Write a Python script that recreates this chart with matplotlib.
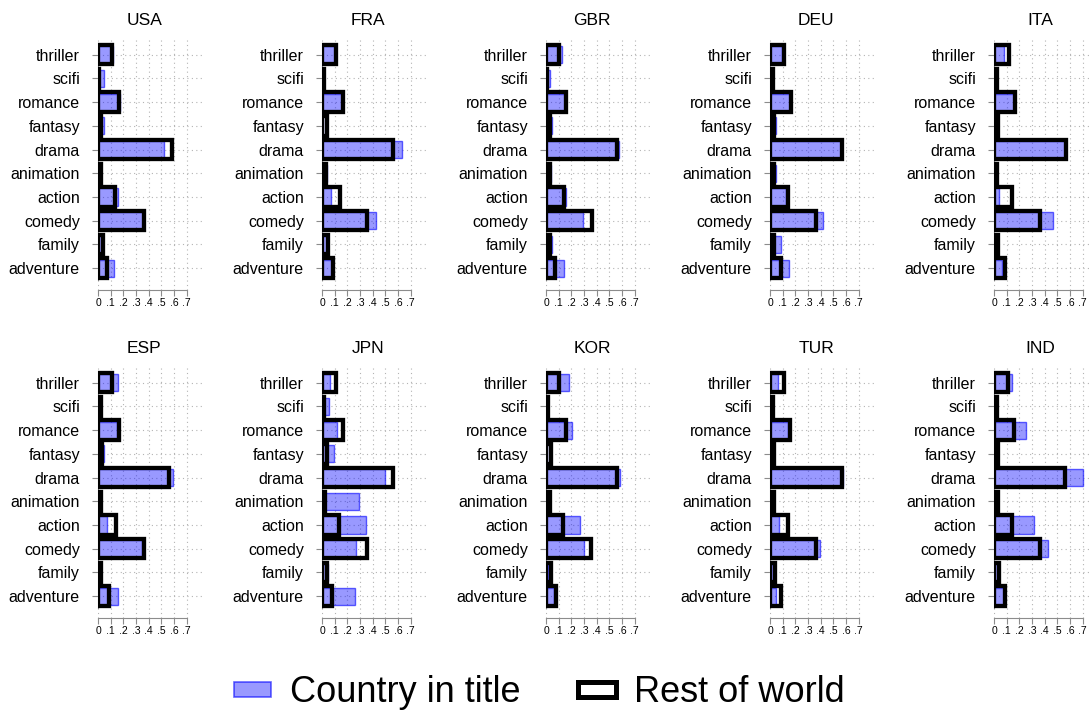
import numpy as np
import matplotlib
matplotlib.use("Agg")
import matplotlib.pyplot as plt
from matplotlib.patches import Patch

plt.rcParams['font.family'] = ['Liberation Sans', 'DejaVu Sans']

# genres, listed top to bottom as they appear on each panel
genres = ['thriller', 'scifi', 'romance', 'fantasy', 'drama',
          'animation', 'action', 'comedy', 'family', 'adventure']

countries = ['USA', 'FRA', 'GBR', 'DEU', 'ITA',
             'ESP', 'JPN', 'KOR', 'TUR', 'IND']

# genre shares of films with the country in the title
usa_in = [0.12, 0.05, 0.175, 0.045, 0.52, 0.01, 0.16, 0.355, 0.035, 0.127]
fra_in = [0.10, 0.005, 0.16, 0.01, 0.635, 0.04, 0.075, 0.425, 0.04, 0.085]
gbr_in = [0.13, 0.035, 0.155, 0.05, 0.58, 0.04, 0.16, 0.29, 0.05, 0.14]
deu_in = [0.095, 0.005, 0.155, 0.045, 0.56, 0.045, 0.13, 0.415, 0.09, 0.15]
ita_in = [0.08, 0.005, 0.155, 0.01, 0.56, 0.01, 0.04, 0.465, 0.025, 0.065]
esp_in = [0.16, 0.005, 0.15, 0.05, 0.595, 0.01, 0.07, 0.35, 0.02, 0.155]
jpn_in = [0.06, 0.058, 0.12, 0.092, 0.50, 0.29, 0.345, 0.27, 0.045, 0.263]
kor_in = [0.18, 0.005, 0.205, 0.01, 0.585, 0.01, 0.27, 0.30, 0.015, 0.06]
tur_in = [0.06, 0.005, 0.14, 0.005, 0.578, 0.005, 0.075, 0.395, 0.02, 0.045]
ind_in = [0.145, 0.005, 0.25, 0.005, 0.70, 0.005, 0.32, 0.425, 0.03, 0.085]

# genre shares for the rest of the world
usa_row = [0.108, 0.005, 0.166, 0.02, 0.585, 0.02, 0.137, 0.36, 0.04, 0.07]
fra_row = [0.11, 0.015, 0.165, 0.04, 0.56, 0.03, 0.145, 0.355, 0.045, 0.09]
gbr_row = [0.103, 0.01, 0.16, 0.035, 0.565, 0.03, 0.14, 0.36, 0.035, 0.075]
deu_row = [0.11, 0.02, 0.165, 0.03, 0.57, 0.03, 0.14, 0.36, 0.03, 0.085]
ita_row = [0.115, 0.02, 0.165, 0.03, 0.57, 0.025, 0.14, 0.36, 0.035, 0.09]
esp_row = [0.11, 0.02, 0.165, 0.03, 0.56, 0.025, 0.14, 0.36, 0.025, 0.085]
jpn_row = [0.113, 0.015, 0.163, 0.037, 0.563, 0.024, 0.134, 0.358, 0.04, 0.08]
kor_row = [0.106, 0.015, 0.16, 0.037, 0.56, 0.03, 0.135, 0.356, 0.04, 0.08]
tur_row = [0.109, 0.02, 0.16, 0.03, 0.567, 0.03, 0.14, 0.36, 0.04, 0.085]
ind_row = [0.11, 0.02, 0.16, 0.035, 0.565, 0.035, 0.14, 0.36, 0.04, 0.09]

xticks = [0, 0.1, 0.2, 0.3, 0.4, 0.5, 0.6, 0.7]
xticklabels = ['0', '.1', '.2', '.3', '.4', '.5', '.6', '.7']

in_title = [usa_in, fra_in, gbr_in, deu_in, ita_in,
            esp_in, jpn_in, kor_in, tur_in, ind_in]
rest = [usa_row, fra_row, gbr_row, deu_row, ita_row,
        esp_row, jpn_row, kor_row, tur_row, ind_row]

W, H = 1091, 715
fig = plt.figure(figsize=(W / 100, H / 100), dpi=100)

blue_face = (0, 0, 1, 0.4)
blue_edge = (0, 0, 1, 0.6)
gray = '#8c8c8c'

# y position 0 is the bottom genre (adventure)
ypos = np.arange(len(genres))[::-1]

for i, c in enumerate(countries):
    row, col = divmod(i, 5)
    left = 98 + 224 * col
    bottom = 290 if row == 0 else 618
    ax = fig.add_axes([left / W, (H - bottom) / H, 105 / W, 250 / H])

    ax.barh(ypos, rest[i], height=0.82, color='none', edgecolor='black',
            linewidth=3.1, zorder=3)
    ax.barh(ypos, in_title[i], height=0.72, color=blue_face,
            edgecolor=blue_edge, linewidth=1.0, zorder=2)

    ax.set_xlim(0, 0.83)
    ax.set_ylim(-0.92, 9.62)
    ax.set_yticks(ypos)
    ax.set_yticklabels(genres, fontsize=11.5)
    ax.set_xticks(xticks)
    ax.set_xticklabels(xticklabels, fontsize=7.5)

    ax.grid(True, color='#b4b4b4', linestyle=(0, (1, 3)), linewidth=0.8,
            zorder=0)
    ax.set_axisbelow(True)

    for s in ['top', 'right']:
        ax.spines[s].set_visible(False)
    ax.spines['left'].set_color(gray)
    ax.spines['bottom'].set_color(gray)
    ax.spines['left'].set_bounds(-0.5, 9.5)
    ax.spines['bottom'].set_bounds(0, 0.7)
    ax.tick_params(axis='y', colors=gray, labelcolor='black', length=4,
                   pad=9, width=0.8)
    ax.tick_params(axis='x', colors=gray, labelcolor='black', length=4,
                   pad=2, width=0.8)

    ax.set_title(c, fontsize=12.5, x=0.44, pad=11)

handles = [Patch(facecolor=blue_face, edgecolor=blue_edge, linewidth=1.2,
                 label='Country in title'),
           Patch(facecolor='white', edgecolor='black', linewidth=3.6,
                 label='Rest of world')]
fig.legend(handles=handles, loc='center', bbox_to_anchor=(0.494, 0.031),
           ncol=2, frameon=False, fontsize=26, handlelength=1.05,
           handleheight=0.28, handletextpad=0.5, columnspacing=1.6)

fig.savefig('out.png', dpi=100)
